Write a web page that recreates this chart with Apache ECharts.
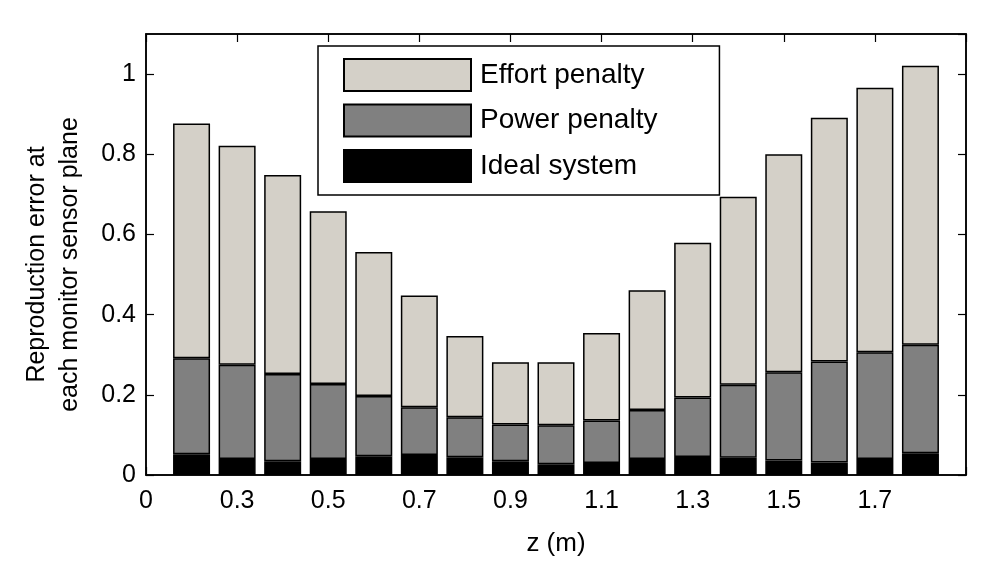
<!DOCTYPE html>
<html>
<head>
<meta charset="utf-8">
<script src="https://cdn.jsdelivr.net/npm/echarts@6/dist/echarts.min.js"></script>
<style>
html,body{margin:0;padding:0;background:#fff;}
#chart{width:1000px;height:564px;}
</style>
</head>
<body>
<div id="chart"></div>
<script>
// Bar slots on the x axis (1..17) and the z value each represents (m)
const positions = [1, 2, 3, 4, 5, 6, 7, 8, 9, 10, 11, 12, 13, 14, 15, 16, 17];
const zValues = ['0.2', '0.3', '0.4', '0.5', '0.6', '0.7', '0.8', '0.9', '1.0', '1.1', '1.2', '1.3', '1.4', '1.5', '1.6', '1.7', '1.8'];
// x tick labels at slots 0, 2, 4, ... 16
const xTickLabels = ['0', '0.3', '0.5', '0.7', '0.9', '1.1', '1.3', '1.5', '1.7'];

// stacked segment values
const idealSystem = [0.052, 0.040, 0.034, 0.040, 0.047, 0.050, 0.044, 0.034, 0.027, 0.030, 0.040, 0.045, 0.043, 0.036, 0.031, 0.040, 0.054];
const powerPenalty = [0.239, 0.235, 0.218, 0.187, 0.150, 0.119, 0.100, 0.092, 0.097, 0.106, 0.122, 0.148, 0.182, 0.220, 0.252, 0.266, 0.271];
const effortPenalty = [0.586, 0.546, 0.496, 0.431, 0.359, 0.279, 0.203, 0.155, 0.157, 0.218, 0.299, 0.386, 0.469, 0.544, 0.608, 0.660, 0.696];

const FONT = 'Liberation Sans, Arial, sans-serif';
const chart = echarts.init(document.getElementById('chart'), null, {renderer: 'canvas'});

// category slots: 0 (left edge), bars 1..17, 18 (right edge)
const slots = ['0'].concat(zValues).concat(['']);

function pairs(vals) { return positions.map((p, i) => [p, vals[i]]); }
const barStyle = (color) => ({color: color, borderColor: '#000', borderWidth: 1.5});
const axisLine = () => ({show: true, onZero: false, lineStyle: {color: '#000', width: 1.5}});
const tick = (intv) => {
  const t = {show: true, inside: true, length: 8, lineStyle: {color: '#000', width: 1.2}};
  if (intv !== undefined) t.interval = intv;
  return t;
};
const evenIdx = (index) => index % 2 === 0;

const option = {
  animation: false,
  backgroundColor: '#fff',
  textStyle: {fontFamily: FONT, color: '#000'},
  grid: {left: 146, right: 34, top: 34, bottom: 89, containLabel: false, show: true, borderColor: '#000', borderWidth: 1.5, backgroundColor: 'transparent'},
  legend: {
    orient: 'vertical',
    left: 318,
    top: 46,
    data: ['Effort penalty', 'Power penalty', 'Ideal system'],
    itemWidth: 127,
    itemHeight: 32,
    itemGap: 11.5,
    padding: [12, 62, 12, 25],
    borderColor: '#000',
    borderWidth: 1.5,
    backgroundColor: '#fff',
    icon: 'rect',
    textStyle: {fontFamily: FONT, fontSize: 28, color: '#000', padding: [0, 0, 0, 4]}
  },
  xAxis: [
    {
      type: 'category', data: slots, boundaryGap: false, position: 'bottom',
      name: 'z (m)', nameLocation: 'middle', nameGap: 56,
      nameTextStyle: {fontFamily: FONT, fontSize: 26, color: '#000'},
      axisLine: axisLine(), axisTick: tick(evenIdx), splitLine: {show: false},
      axisLabel: {
        fontFamily: FONT, fontSize: 25, color: '#000', margin: 14, interval: evenIdx,
        formatter: (v, index) => (index % 2 === 0 && index / 2 < xTickLabels.length) ? xTickLabels[index / 2] : ''
      }
    },
    {
      type: 'category', data: slots, boundaryGap: false, position: 'top',
      axisLine: axisLine(), axisTick: tick(evenIdx), splitLine: {show: false}, axisLabel: {show: false}
    }
  ],
  yAxis: [
    {
      type: 'value', min: 0, max: 1.1, interval: 0.2, position: 'left',
      name: 'Reproduction error at\neach monitor sensor plane',
      nameLocation: 'middle', nameGap: 59, nameRotate: 90,
      nameTextStyle: {fontFamily: FONT, fontSize: 25, color: '#000', lineHeight: 33, padding: [0, 20, 0, 0]},
      axisLine: axisLine(), axisTick: tick(), splitLine: {show: false},
      axisLabel: {fontFamily: FONT, fontSize: 25, color: '#000', margin: 10, showMaxLabel: false}
    },
    {
      type: 'value', min: 0, max: 1.1, interval: 0.2, position: 'right',
      axisLine: axisLine(), axisTick: tick(), splitLine: {show: false}, axisLabel: {show: false}
    }
  ],
  series: [
    {name: 'Ideal system', type: 'bar', stack: 'z', barWidth: 37, data: pairs(idealSystem), itemStyle: barStyle('#000000')},
    {name: 'Power penalty', type: 'bar', stack: 'z', barWidth: 37, data: pairs(powerPenalty), itemStyle: barStyle('#808080')},
    {name: 'Effort penalty', type: 'bar', stack: 'z', barWidth: 37, data: pairs(effortPenalty), itemStyle: barStyle('#d4d0c8')}
  ]
};
chart.setOption(option);
</script>
</body>
</html>
